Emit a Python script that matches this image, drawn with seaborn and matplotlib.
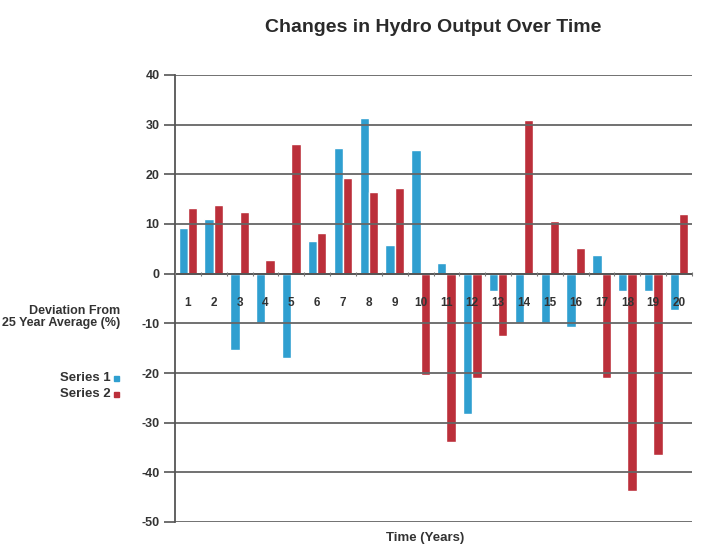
import matplotlib
matplotlib.use("Agg")
import matplotlib.pyplot as plt
import seaborn as sns
import pandas as pd
from matplotlib.ticker import MultipleLocator
from matplotlib.patches import Rectangle

years = [str(i) for i in range(1, 21)]
series1 = [9.2, 11.0, -15.4, -9.9, -16.9, 6.6, 25.3, 31.4, 5.7, 24.8,
           2.2, -28.3, -3.5, -10.0, -10.0, -10.7, 3.8, -3.5, -3.5, -7.4]
series2 = [13.3, 13.9, 12.5, 2.7, 26.2, 8.1, 19.3, 16.5, 17.2, -20.5,
           -33.8, -21.0, -12.5, 31.0, 10.7, 5.2, -21.0, -43.8, -36.5, 12.1]
series_names = ["Series 1", "Series 2"]
yticks = [40, 30, 20, 10, 0, -10, -20, -30, -40, -50]

blue = "#2f9fd0"
red = "#bb2f3a"

df = pd.DataFrame({
    "year": years * 2,
    "value": series1 + series2,
    "series": [series_names[0]] * 20 + [series_names[1]] * 20,
})

sns.set_style("white")
plt.rcParams["font.family"] = ["Liberation Sans", "DejaVu Sans"]
plt.rcParams["axes.unicode_minus"] = False

fig = plt.figure(figsize=(7.2, 5.54), dpi=100)
ax = fig.add_axes([175 / 720, 1 - 522 / 554, (692 - 175) / 720, (522 - 75) / 554])

sns.barplot(data=df, x="year", y="value", hue="series", order=years,
            hue_order=series_names, palette=[blue, red], width=0.72,
            dodge=True, legend=False, ax=ax, saturation=1)

for p in ax.patches:
    p.set_zorder(1)

ax.set_xlim(-0.5, 19.5)
ax.set_ylim(-50, 40)
ax.set_yticks(yticks)
ax.yaxis.grid(True, color="#666666", linewidth=1.3)
ax.xaxis.grid(False)
ax.yaxis.set_zorder(2)
ax.xaxis.set_zorder(4)

for s in ["top", "right"]:
    ax.spines[s].set_visible(False)
ax.spines["left"].set_color("#555555")
ax.spines["left"].set_linewidth(1.3)
ax.spines["bottom"].set_position(("data", 0))
ax.spines["bottom"].set_color("#555555")
ax.spines["bottom"].set_linewidth(1.3)

ax.tick_params(axis="y", length=8, width=1.2, color="#555555", pad=3,
               labelsize=9, labelcolor="#333333", left=True)
ax.tick_params(axis="x", which="major", length=0, pad=17,
               labelsize=8.5, labelcolor="#333333")
ax.xaxis.set_minor_locator(MultipleLocator(1, offset=0.5))
ax.tick_params(axis="x", which="minor", length=3, width=0.8,
               color="#777777", direction="inout", bottom=True)
for lbl in ax.get_xticklabels() + ax.get_yticklabels():
    lbl.set_fontweight("bold")

ax.set_xlabel("")
ax.set_ylabel("")

fig.text(433 / 720, 1 - 27 / 554, "Changes in Hydro Output Over Time",
         ha="center", va="center", fontsize=14, fontweight="bold", color="#2a2a2a")
fig.text(425 / 720, 1 - 538 / 554, "Time (Years)", ha="center", va="center",
         fontsize=9.5, fontweight="bold", color="#333333")
fig.text(120 / 720, 1 - 317 / 554, "Deviation From\n25 Year Average (%)",
         ha="right", va="center", fontsize=9, fontweight="bold",
         color="#333333", linespacing=1.0)

# legend
for i, (name, col) in enumerate(zip(series_names, [blue, red])):
    yy = 1 - (378 + 16 * i) / 554
    fig.text(111 / 720, yy, name, ha="right", va="center", fontsize=9.5,
             fontweight="bold", color="#333333")
    fig.patches.append(Rectangle((114 / 720, yy - 2.5 / 554), 5 / 720, 5 / 554,
                                 transform=fig.transFigure, color=col))

fig.savefig("out.png", dpi=100, facecolor="white")
